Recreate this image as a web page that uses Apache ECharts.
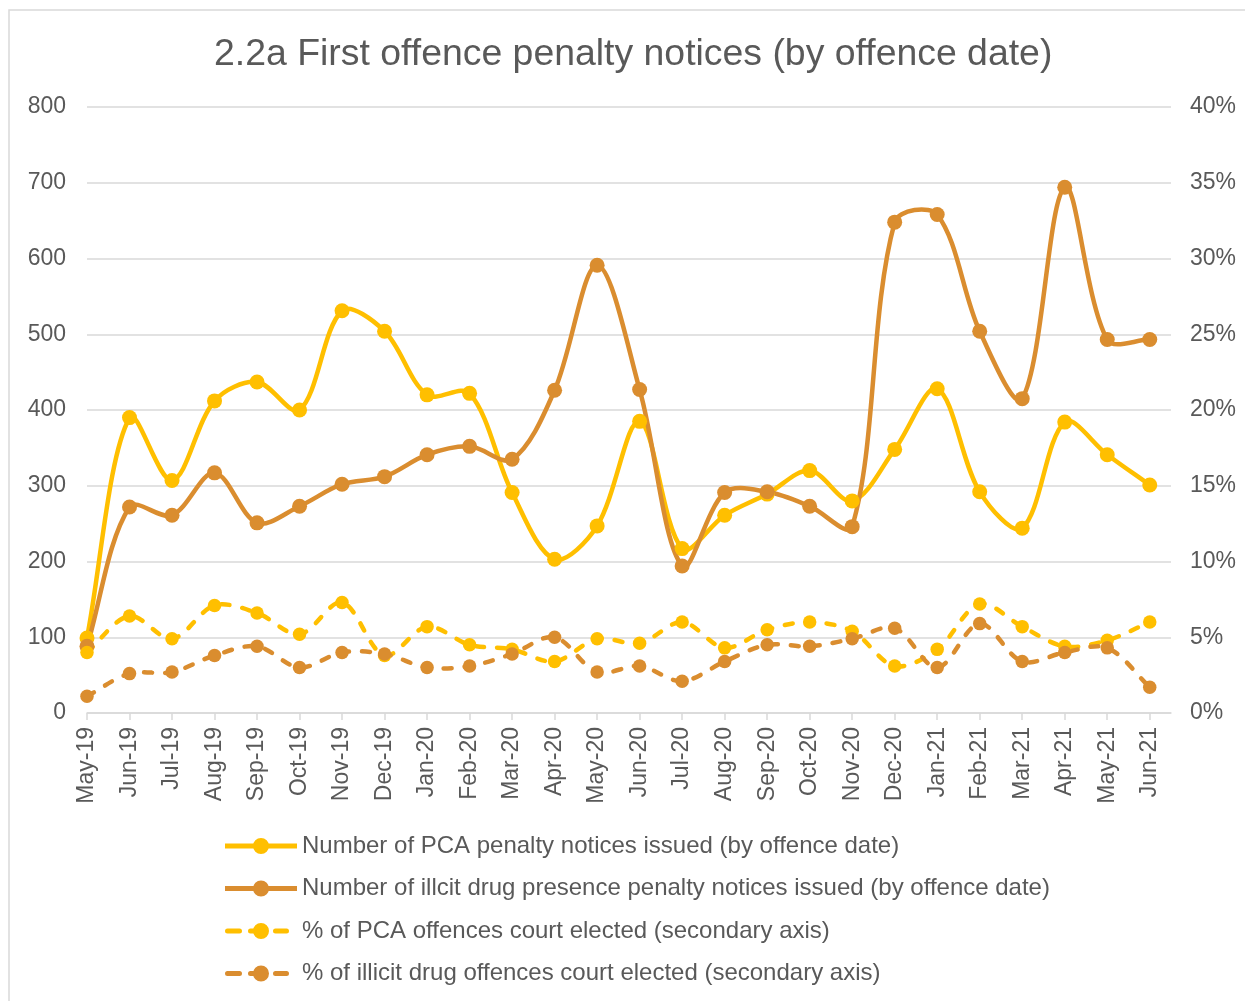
<!DOCTYPE html>
<html>
<head>
<meta charset="utf-8">
<title>2.2a First offence penalty notices</title>
<script src="https://cdn.jsdelivr.net/npm/echarts@6/dist/echarts.min.js"></script>
<style>
  html, body { margin: 0; padding: 0; background: #ffffff; }
  #chart { width: 1245px; height: 1001px; }
</style>
</head>
<body>
<div id="chart"></div>
<script>
// Monthly categories (by offence date)
const months = ['May-19','Jun-19','Jul-19','Aug-19','Sep-19','Oct-19','Nov-19','Dec-19',
  'Jan-20','Feb-20','Mar-20','Apr-20','May-20','Jun-20','Jul-20','Aug-20','Sep-20','Oct-20',
  'Nov-20','Dec-20','Jan-21','Feb-21','Mar-21','Apr-21','May-21','Jun-21'];

// Number of penalty notices issued (primary axis)
const pcaNotices = [99, 390, 307, 412, 437, 400, 531, 504, 420, 422, 291, 203, 247,
  385, 217, 261, 289, 320, 280, 348, 428, 292, 244, 384, 341, 301];
const drugNotices = [88, 272, 261, 317, 251, 273, 302, 312, 341, 352, 335, 426, 591,
  427, 194, 291, 292, 273, 246, 648, 658, 504, 415, 694, 493, 493];

// % of offences court elected (secondary axis)
const pcaCourtPct = [4.0, 6.4, 4.9, 7.1, 6.6, 5.2, 7.3, 3.8, 5.7, 4.5, 4.2, 3.4, 4.9,
  4.6, 6.0, 4.3, 5.5, 6.0, 5.4, 3.1, 4.2, 7.2, 5.7, 4.4, 4.8, 6.0];
const drugCourtPct = [1.1, 2.6, 2.7, 3.8, 4.4, 3.0, 4.0, 3.9, 3.0, 3.1, 3.9, 5.0, 2.7,
  3.1, 2.1, 3.4, 4.5, 4.4, 4.9, 5.6, 3.0, 5.9, 3.4, 4.0, 4.3, 1.7];

// Axis ticks
const leftTicks = { min: 0, max: 800, interval: 100 };
const rightTicks = { min: 0, max: 40, interval: 5 };

const GOLD = '#FFBF00';
const ORANGE = '#DA8D2F';
const TEXT = '#595959';
const GRID = '#D9D9D9';
const FONT = '"Liberation Sans", Arial, sans-serif';
const LINE_W = 4.5;
const DASH = [8, 13];

const idx = months.map((m, i) => i);
const pairs = arr => arr.map((v, i) => [i, v]);

// Legend glyphs, drawn in a 72 x 16 box: line with a marker in the middle
const ICON_SOLID = 'path://M0,5.5H72V10.5H0Z M28,8A8,8 0 1,1 44,8A8,8 0 1,1 28,8Z';
const ICON_DASHED = 'path://M2.5,5.5H14.5A2.5,2.5 0 0,1 14.5,10.5H2.5A2.5,2.5 0 0,1 2.5,5.5Z ' +
  'M25.5,5.5H36V10.5H25.5A2.5,2.5 0 0,1 25.5,5.5Z ' +
  'M28,8A8,8 0 1,1 44,8A8,8 0 1,1 28,8Z ' +
  'M50.5,5.5H61.5A2.5,2.5 0 0,1 61.5,10.5H50.5A2.5,2.5 0 0,1 50.5,5.5Z ' +
  'M71.98,7.99H72V8.01H71.98Z';

const dist = (a, b) => Math.hypot(b[0] - a[0], b[1] - a[1]);

// Smooth curve through the points in pixel space; tangent handles are
// weighted by the neighbouring segment lengths to limit overshoot
function curveSeries(arr, color, dashed, yAxisIndex) {
  return {
    type: 'custom',
    coordinateSystem: 'cartesian2d',
    yAxisIndex: yAxisIndex,
    data: pairs(arr),
    encode: { x: 0, y: 1 },
    silent: true,
    animation: false,
    renderItem: function (params, api) {
      if (params.dataIndex !== 0) return null;
      const pts = arr.map((v, i) => api.coord([i, v]));
      const n = pts.length;
      let d = 'M' + pts[0][0] + ',' + pts[0][1];
      for (let i = 0; i < n - 1; i++) {
        const p0 = pts[i - 1] || pts[i];
        const p1 = pts[i];
        const p2 = pts[i + 1];
        const p3 = pts[i + 2] || pts[i + 1];
        const d01 = dist(p0, p1), d12 = dist(p1, p2), d23 = dist(p2, p3);
        const k1 = (d01 + d12) > 0 ? d12 / (d01 + d12) / 3 : 0;
        const k2 = (d12 + d23) > 0 ? d12 / (d12 + d23) / 3 : 0;
        const c1x = p1[0] + (p2[0] - p0[0]) * k1, c1y = p1[1] + (p2[1] - p0[1]) * k1;
        const c2x = p2[0] - (p3[0] - p1[0]) * k2, c2y = p2[1] - (p3[1] - p1[1]) * k2;
        d += ' C' + c1x + ',' + c1y + ',' + c2x + ',' + c2y + ',' + p2[0] + ',' + p2[1];
      }
      return {
        type: 'path',
        shape: { pathData: d },
        style: {
          fill: 'none',
          stroke: color,
          lineWidth: LINE_W,
          lineDash: dashed ? DASH : null,
          lineCap: 'round',
          lineJoin: 'round'
        }
      };
    }
  };
}

// Markers at each month
function markerSeries(name, arr, color, dashed, yAxisIndex) {
  return {
    name: name,
    type: 'line',
    yAxisIndex: yAxisIndex,
    data: pairs(arr),
    symbol: 'circle',
    symbolSize: dashed ? 13.5 : 15,
    itemStyle: { color: color },
    lineStyle: { opacity: 0, width: 0 },
    emphasis: { disabled: true },
    animation: false
  };
}

const names = [
  'Number of PCA penalty notices issued (by offence date)',
  'Number of illcit drug presence penalty notices issued (by offence date)',
  '% of PCA offences court elected (secondary axis)',
  '% of illicit drug offences court elected (secondary axis)'
];

const chart = echarts.init(document.getElementById('chart'), null, { renderer: 'canvas' });

chart.setOption({
  backgroundColor: '#ffffff',
  animation: false,
  textStyle: { fontFamily: FONT, color: TEXT },
  title: {
    text: '2.2a First offence penalty notices (by offence date)',
    left: 214,
    top: 36,
    padding: 0,
    textStyle: { fontFamily: FONT, fontSize: 37.4, fontWeight: 'normal', color: TEXT }
  },
  graphic: [{
    type: 'rect',
    shape: { x: 9, y: 10, width: 1250, height: 1000 },
    style: { fill: 'none', stroke: GRID, lineWidth: 1.5 },
    silent: true
  }],
  grid: {
    left: 87, right: 74, top: 107, bottom: 288,
    containLabel: false,
    outerBoundsMode: 'none'
  },
  legend: {
    orient: 'vertical',
    left: 225,
    top: 834,
    padding: 0,
    itemWidth: 72,
    itemHeight: 16,
    itemGap: 18.5,
    textStyle: { fontFamily: FONT, fontSize: 24, color: TEXT, lineHeight: 24 },
    data: [
      { name: names[0], icon: ICON_SOLID },
      { name: names[1], icon: ICON_SOLID },
      { name: names[2], icon: ICON_DASHED },
      { name: names[3], icon: ICON_DASHED }
    ]
  },
  xAxis: {
    type: 'value',
    min: 0,
    max: idx.length - 0.5,
    splitLine: { show: false },
    axisLine: { show: true, lineStyle: { color: GRID, width: 1.5 } },
    axisTick: { show: true, length: 7, customValues: idx, lineStyle: { color: GRID, width: 1.5 } },
    axisLabel: {
      customValues: idx,
      rotate: 90,
      margin: 14,
      fontFamily: FONT,
      fontSize: 23,
      color: TEXT,
      formatter: v => months[v]
    }
  },
  yAxis: [{
    type: 'value',
    min: leftTicks.min, max: leftTicks.max, interval: leftTicks.interval,
    axisLine: { show: false },
    axisTick: { show: false },
    splitLine: { show: true, lineStyle: { color: GRID, width: 1.5 } },
    axisLabel: { margin: 21, fontFamily: FONT, fontSize: 23, color: TEXT }
  }, {
    type: 'value',
    min: rightTicks.min, max: rightTicks.max, interval: rightTicks.interval,
    axisLine: { show: false },
    axisTick: { show: false },
    splitLine: { show: false },
    axisLabel: { margin: 19, fontFamily: FONT, fontSize: 23, color: TEXT, formatter: '{value}%' }
  }],
  series: [
    curveSeries(pcaNotices, GOLD, false, 0),
    markerSeries(names[0], pcaNotices, GOLD, false, 0),
    curveSeries(drugNotices, ORANGE, false, 0),
    markerSeries(names[1], drugNotices, ORANGE, false, 0),
    curveSeries(pcaCourtPct, GOLD, true, 1),
    markerSeries(names[2], pcaCourtPct, GOLD, true, 1),
    curveSeries(drugCourtPct, ORANGE, true, 1),
    markerSeries(names[3], drugCourtPct, ORANGE, true, 1)
  ]
});
</script>
</body>
</html>
